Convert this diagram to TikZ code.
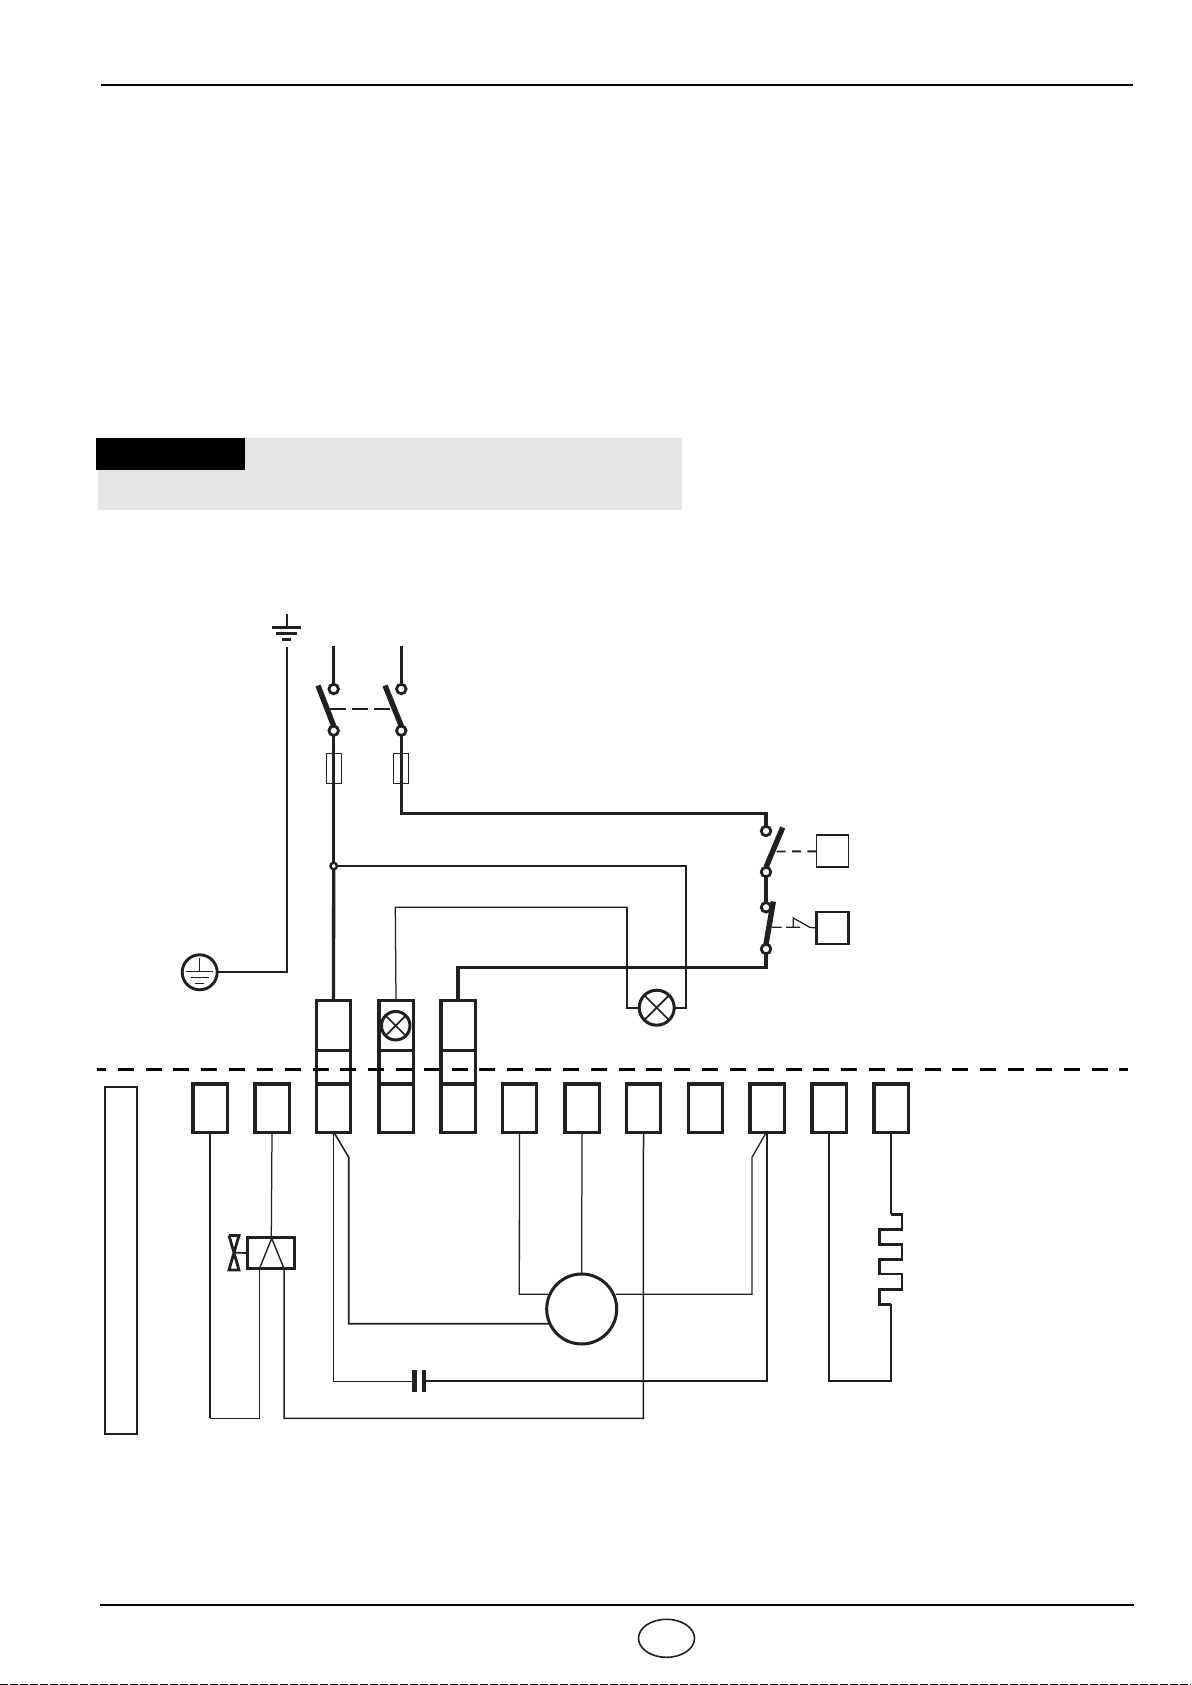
\documentclass[tikz,border=0pt]{standalone}
\usetikzlibrary{calc,shapes.geometric}
\definecolor{ink}{HTML}{231F20}
\definecolor{panel}{HTML}{E4E4E4}
\tikzset{
  x=1pt,y=-1pt,
  every node/.style={inner sep=0pt,outer sep=0pt},
  every path/.style={color=ink},
  wA/.style={line width=1.25pt},
  wB/.style={line width=1.7pt},
  wC/.style={line width=2.2pt},
  wD/.style={line width=3.3pt},
  blade/.style={line width=5.4pt},
  contact/.style={circle,draw=ink,fill=white,line width=2.8pt,minimum size=9.5pt},
  termbox/.style={rectangle,draw=ink,line width=3.2pt,minimum width=34.2pt,minimum height=48.8pt},
  upbox/.style={rectangle,draw=ink,line width=3.2pt,minimum width=34.2pt,minimum height=50pt},
  midbox/.style={rectangle,draw=ink,line width=3.2pt,minimum width=34.2pt,minimum height=33pt},
  fusebox/.style={rectangle,draw=ink,line width=1.1pt,minimum width=15pt,minimum height=30pt},
  relaybox/.style={rectangle,draw=ink,line width=1.8pt,minimum width=32pt,minimum height=32pt},
  ring/.style={circle,draw=ink,line width=3pt},
  dashA/.style={line width=1.9pt,dash pattern=on 15.5pt off 6.5pt},
  dashB/.style={line width=1.9pt,dash pattern=on 9pt off 6.3pt},
}
\begin{document}
\begin{tikzpicture}
\useasboundingbox (0,0) rectangle (1191,1685);
% page furniture
\fill[white] (0,0) rectangle (1191,1685);
\coordinate (topL) at (101,84.7); \coordinate (topR) at (1133,84.7);
\draw[black,line width=2.2pt] (topL) -- (topR);
\coordinate (botL) at (100,1605); \coordinate (botR) at (1134,1605);
\draw[black,line width=2.5pt] (botL) -- (botR);
\node[ellipse,draw=ink,line width=1.6pt,minimum width=56pt,minimum height=38pt] (oval) at (666.5,1638.3) {};
\coordinate (edgeL) at (0,1684.5); \coordinate (edgeR) at (1191,1684.5);
\draw[black,line width=1pt,dash pattern=on 8pt off 2pt] (edgeL) -- (edgeR);
\fill[panel] (98,438) rectangle (681.7,510);
\fill[black] (96,438) rectangle (245,470);

% terminals
\foreach \n/\x in {1/210,2/272,3/333.5,4/396,5/458,6/519.5,7/582,8/643.5,9/705.7,10/767,11/829,12/891}
  \node[termbox] (t\n) at (\x,1108.4) {};
\foreach \n/\x in {3/333.5,4/396,5/458}{
  \node[midbox] (m\n) at (\x,1066.8) {};
  \node[upbox] (u\n) at (\x,1025.6) {};
}
% lamp in terminal 4
\node[ring,minimum size=28.5pt,fill=white] (la) at (395.7,1025.7) {};
\draw[wB] (la.north west) -- (la.south east) (la.north east) -- (la.south west);

% earth
\coordinate (gtop) at (287,614);
\coordinate (g1) at (287,627.3);
\draw[wC] (gtop) -- (g1);
\coordinate (g1a) at (272,627.3); \coordinate (g1b) at (301,627.3);
\coordinate (g2a) at (276,633.3); \coordinate (g2b) at (297,633.3);
\coordinate (g3a) at (282,639.3); \coordinate (g3b) at (291,639.3);
\draw[line width=2.8pt] (g1a) -- (g1b) (g2a) -- (g2b) (g3a) -- (g3b);
\node[circle,draw=ink,line width=2.9pt,minimum size=35pt] (pe) at (199.7,972.3) {};
\coordinate (peLine) at (287,647);
\draw[wC] (peLine) |- (pe.east);
\coordinate (pv) at (199.7,958); \coordinate (pc) at (199.7,971);
\coordinate (p1a) at (186,971); \coordinate (p1b) at (213.3,971);
\coordinate (p2a) at (190.7,977.3); \coordinate (p2b) at (208.7,977.3);
\coordinate (p3a) at (195,983.3); \coordinate (p3b) at (204,983.3);
\draw[line width=1pt] (pv) -- (pc) (p1a) -- (p1b) (p2a) -- (p2b) (p3a) -- (p3b);

% main switch
\coordinate (in1) at (333.7,646); \coordinate (in2) at (401.3,646);
\node[contact] (a1) at (333.7,689) {};
\node[contact] (b1) at (333.7,730.7) {};
\node[contact] (a2) at (401.3,689) {};
\node[contact] (b2) at (401.3,730.7) {};
\draw[wD] (in1) -- (a1.north);
\draw[wD] (in2) -- (a2.north);
\coordinate (bl1) at (318,685.5); \coordinate (bl2) at (385,685.5);
\draw[blade] (bl1) -- (b1.north);
\draw[blade] (bl2) -- (b2.north);
\coordinate (lk1) at (330,708.7); \coordinate (lk2) at (391,708.7);
\draw[dashA] (lk1) -- (lk2);

% fuses and main lines
\node[fusebox] (f1) at (333.8,768.7) {};
\node[fusebox] (f2) at (401,768.7) {};
\node[circle,draw=ink,fill=white,line width=2.4pt,minimum size=6.5pt] (j) at (333.7,866) {};
\draw[wD] (b1.south) -- (j.north);
\draw[wD] (j.south) -- (u3.north);

% safety chain
\node[contact] (sa) at (766,831) {};
\node[contact] (sb) at (766,872) {};
\node[contact] (sc) at (766,907.3) {};
\node[contact] (sd) at (766,949) {};
\coordinate (bl3) at (782.7,827.5); \coordinate (bl4) at (773.3,901.5);
\draw[blade] (bl3) -- (sb.north);
\draw[blade] (bl4) -- (sd.north);
\coordinate (lr1) at (766,813.3); \coordinate (lc1) at (401.3,813.3);
\draw[wD] (b2.south) -- (lc1) -- (lr1) -- (sa.north);
\draw[wD] (sb.south) -- (sc.north);
\coordinate (lr2) at (766,967.3);
\draw[wD] (u5.north) |- (lr2) -- (sd.south);
\node[relaybox] (r1) at (832.5,851.3) {};
\node[relaybox,line width=2.1pt] (r2) at (832.5,927.8) {};
\coordinate (d1) at (776.7,851.5);
\draw[dashB] (d1) -- (r1.west);
\coordinate (d2) at (771.7,927.3); \coordinate (d3) at (781.7,927.3);
\coordinate (d4) at (786,927.3); \coordinate (d5) at (800,927.3);
\coordinate (d6) at (793.3,927.3); \coordinate (d7) at (793.3,918);
\coordinate (d8) at (810,927.5);
\draw[wA] (d2) -- (d3) (d4) -- (d5) (d6) -- (d7) -- (d8) -- (r2.west);

% indicator lamp
\node[ring,minimum size=35pt] (lb) at (656.7,1007.7) {};
\draw[wB] (lb.north west) -- (lb.south east) (lb.north east) -- (lb.south west);
\coordinate (nr) at (686,866);
\draw[wC] (j.east) -- (nr) |- (lb.east);
\coordinate (tl) at (395.3,907.3); \coordinate (tr) at (627,907.3);
\draw[line width=1.25pt] (u4.north) -- (tl) -- (tr);
\draw[line width=1.6pt] (tr) |- (lb.west);

% separator
\coordinate (sepL) at (97,1069.3); \coordinate (sepR) at (1128,1069.3);
\draw[black,line width=3.5pt,dash pattern=on 16pt off 11.82pt,dash phase=7pt] (sepL) -- (sepR);

% left bar
\node[rectangle,draw=ink,line width=2.4pt,minimum width=32pt,minimum height=347pt] (bar) at (121.2,1260.3) {};

% gas valve
\node[rectangle,draw=ink,line width=3pt,minimum width=47pt,minimum height=31pt] (coil) at (271.3,1253) {};
\coordinate (apex) at (271.7,1238.3);
\coordinate (cl) at (259.5,1268.5); \coordinate (cr) at (284,1268.5);
\draw[line width=1.4pt] (cl) -- (apex) -- (cr);
\coordinate (vTL) at (229,1235.5); \coordinate (vTR) at (239,1235.5);
\coordinate (vBL) at (229,1270); \coordinate (vBR) at (239,1270);
\draw[line width=2.8pt] (vTL) -- (vTR) -- (vBL) -- (vBR) -- (vTL);
\coordinate (vM) at (234,1252.7);
\draw[wB] (vM) -- (coil.west);
\coordinate (b1d) at (210,1418.3); \coordinate (b1e) at (259.5,1418.3);
\draw[wB] (t1.south) -- (b1d);
\draw[line width=1.25pt] (b1d) -- (b1e) -- (cl);
\draw[wA] (t2.south) -- (coil.north);
\coordinate (b8d) at (284,1418.3); \coordinate (b8e) at (643.3,1418.3);
\draw[line width=1.5pt] (cr) -- (b8d) -- (b8e) -- (t8.south);

% motor
\node[ring,minimum size=70pt] (mot) at (581.7,1309) {};
\draw[wA] (t7.south) -- (mot.north);
\coordinate (m6a) at (519.3,1294.3); \coordinate (m6b) at (548,1294.3);
\draw[line width=1.3pt] (t6.south) -- (m6a) -- (m6b);
\coordinate (m10a) at (752,1157.3); \coordinate (m10b) at (752,1294.3); \coordinate (m10c) at (615.5,1294.3);
\coordinate (t10k) at (765.7,1133.5);
\draw[line width=1.3pt] (t10k) -- (m10a) -- (m10b) -- (m10c);
\coordinate (t3k) at (333.3,1131.3);
\coordinate (m3a) at (348.7,1157.3); \coordinate (m3b) at (348.7,1323.7); \coordinate (m3c) at (549,1323.7);
\draw[line width=1.6pt] (t3k) -- (m3a) -- (m3b) -- (m3c);

% capacitor
\coordinate (c1) at (414.3,1370); \coordinate (c1e) at (414.3,1392);
\coordinate (c2) at (423.9,1370); \coordinate (c2e) at (423.9,1392);
\draw[line width=4.6pt] (c1) -- (c1e) (c2) -- (c2e);
\coordinate (c1m) at (412,1381.3); \coordinate (c3) at (333.3,1381.3);
\draw[wA] (t3k) -- (c3) -- (c1m);
\coordinate (c2m) at (426,1381); \coordinate (c4) at (767,1381);
\draw[wC] (c2m) -- (c4) -- (t10.south);

% heater
\coordinate (h0) at (891,1214.3); \coordinate (h1) at (902,1214.3);
\coordinate (h2) at (902,1229.7); \coordinate (h3) at (879.3,1229.7);
\coordinate (h4) at (879.3,1244.5); \coordinate (h5) at (902,1244.5);
\coordinate (h6) at (902,1259.3); \coordinate (h7) at (879.3,1259.3);
\coordinate (h8) at (879.3,1274); \coordinate (h9) at (902,1274);
\coordinate (h10) at (902,1289.3); \coordinate (h11) at (879.3,1289.3);
\coordinate (h12) at (879.3,1304.3); \coordinate (h13) at (891,1304.3);
\draw[line width=2.8pt] (h0) -- (h1) -- (h2) -- (h3) -- (h4) -- (h5) -- (h6) -- (h7) -- (h8) -- (h9) -- (h10) -- (h11) -- (h12) -- (h13);
\draw[wC] (t12.south) -- (h0);
\coordinate (w1) at (829,1380.7); \coordinate (w2) at (891,1380.7);
\draw[wC] (t11.south) -- (w1) -- (w2) -- (h13);
\end{tikzpicture}
\end{document}
